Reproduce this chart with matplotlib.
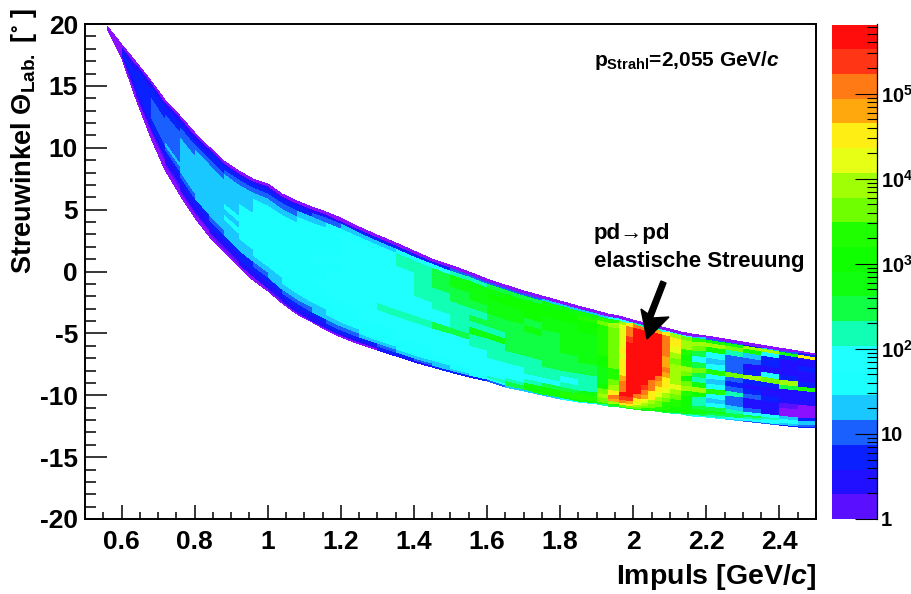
import numpy as np
import matplotlib
matplotlib.use("Agg")
import matplotlib.pyplot as plt
from matplotlib.colors import ListedColormap, LogNorm
from matplotlib.patches import Polygon
from matplotlib.ticker import FuncFormatter, MultipleLocator, LogLocator, NullFormatter

plt.rcParams['font.family'] = ['Liberation Sans', 'DejaVu Sans']
plt.rcParams['font.weight'] = 'bold'
plt.rcParams['axes.unicode_minus'] = False
plt.rcParams['mathtext.fontset'] = 'custom'
plt.rcParams['mathtext.rm'] = 'Liberation Sans:bold'
plt.rcParams['mathtext.bf'] = 'Liberation Sans:bold'
plt.rcParams['mathtext.it'] = 'Liberation Sans:bold:italic'
plt.rcParams['mathtext.default'] = 'regular'

# momentum bin edges and the upper / lower rim of the band (degrees)
impuls = [0.56, 0.6, 0.64, 0.68, 0.72, 0.76, 0.8, 0.84, 0.88, 0.92, 0.96, 1.0, 1.04, 1.08, 1.12, 1.16,
          1.2, 1.25, 1.3, 1.35, 1.4, 1.45, 1.5, 1.55, 1.6, 1.65, 1.7, 1.75, 1.8, 1.85, 1.9, 1.93,
          1.96, 1.98, 2.0, 2.02, 2.04, 2.06, 2.08, 2.1, 2.13, 2.16, 2.2, 2.25, 2.3, 2.35, 2.4, 2.45, 2.5]
rand_oben = [19.8, 18.3, 16.9, 15.4, 13.85, 12.6, 11.2, 10.1, 8.9, 8.1, 7.5, 7.05, 6.3, 5.7, 5.2, 4.8,
             4.3, 3.6, 2.95, 2.3, 1.65, 1.05, 0.5, -0.05, -0.6, -1.1, -1.6, -2.0, -2.4, -2.8, -3.2, -3.45,
             -3.6, -3.75, -3.9, -4.1, -4.25, -4.3, -4.5, -4.65, -4.9, -5.05, -5.2, -5.45, -5.7, -5.95, -6.2, -6.4, -6.65]
rand_unten = [19.7, 17.2, 13.9, 10.8, 8.2, 6.2, 4.3, 2.9, 1.6, 0.35, -0.65, -1.6, -2.55, -3.4, -4.1, -4.7,
              -5.3, -5.85, -6.35, -6.85, -7.3, -7.7, -8.1, -8.5, -8.85, -9.3, -9.65, -10.0, -10.3, -10.55, -10.7, -10.85,
              -10.95, -11.05, -11.1, -11.2, -11.25, -11.3, -11.35, -11.45, -11.55, -11.65, -11.75, -11.9, -12.1, -12.25, -12.4, -12.55, -12.65]
# share of the band width, bottom to top
anteil = [0, .015, .035, .06, .09, .13, .18, .24, .3, .36, .42, .48, .54, .6, .67, .74, .81, .87, .92, .96, .98, 1]

# 10*log10(counts), one line per momentum bin, bottom to top of the band
# -1 marks the single-entry bins at the rim (violet, below the scale)
zehn_log = [
    [-1, -1, -1, -1, -1, -1, -1, -1, -1, -1, -1, -1, -1, -1, -1, -1, -1, -1, -1, -1, -1],
    [-1, -1, -1, -1, -1, -1, 2, 3, 4, 5, 6, 7, 7, 7, 6, 5, 4, 3, 2, -1, -1],
    [-1, -1, -1, -1, -1, 2, 3, 4, 6, 7, 7, 8, 8, 8, 7, 7, 6, 5, 4, 3, -1],
    [-1, -1, -1, -1, -1, 2, 4, 6, 8, 10, 10, 10, 10, 9, 9, 8, 7, 6, 4, 3, -1],
    [-1, -1, -1, -1, 2, 3, 5, 8, 11, 12, 11, 11, 11, 11, 10, 9, 8, 7, 5, 3, -1],
    [-1, -1, -1, 2, 3, 4, 6, 10, 12, 13, 12, 13, 13, 12, 12, 10, 9, 7, 5, 3, -1],
    [-1, -1, -1, 2, 3, 5, 8, 12, 13, 13, 13, 13, 13, 13, 12, 12, 10, 7, 5, 3, -1],
    [-1, -1, 2, 3, 4, 6, 10, 13, 14, 13, 14, 14, 13, 14, 13, 13, 11, 8, 6, 3, -1],
    [-1, -1, 2, 3, 5, 7, 12, 14, 14, 15, 14, 15, 14, 14, 14, 13, 12, 9, 6, 4, -1],
    [-1, -1, 3, 4, 6, 8, 13, 14, 15, 16, 15, 15, 16, 15, 14, 14, 13, 10, 6, 4, -1],
    [-1, -1, 3, 5, 7, 10, 14, 15, 16, 15, 16, 16, 15, 16, 15, 15, 13, 10, 7, 4, -1],
    [-1, 2, 4, 5, 8, 12, 14, 16, 16, 17, 16, 16, 17, 16, 16, 15, 14, 11, 7, 4, -1],
    [-1, 3, 5, 6, 10, 13, 15, 16, 17, 17, 17, 16, 17, 17, 16, 16, 14, 11, 8, 4, -1],
    [-1, 3, 5, 7, 11, 14, 15, 17, 17, 17, 17, 17, 17, 16, 17, 16, 15, 13, 8, 4, -1],
    [-1, 4, 5, 8, 12, 14, 16, 17, 17, 18, 17, 17, 18, 17, 17, 17, 16, 14, 9, 5, -1],
    [-1, 5, 6, 9, 13, 15, 16, 17, 18, 18, 18, 18, 17, 18, 17, 17, 17, 15, 10, 5, -1],
    [-1, 5, 7, 10, 14, 15, 17, 17, 18, 18, 18, 18, 18, 18, 18, 18, 18, 16, 12, 5, -1],
    [-1, 5, 8, 12, 15, 16, 17, 18, 18, 19, 18, 19, 18, 18, 19, 18, 19, 17, 13, 6, -1],
    [3, 6, 10, 14, 15, 17, 17, 18, 18, 21, 19, 19, 19, 19, 19, 19, 20, 19, 14, 6, -1],
    [4, 7, 12, 15, 16, 17, 18, 18, 19, 22, 19, 19, 19, 20, 20, 20, 22, 21, 16, 7, -1],
    [5, 10, 13, 16, 17, 17, 18, 19, 19, 23, 19, 20, 20, 21, 21, 21, 23, 23, 17, 8, -1],
    [6, 12, 14, 16, 17, 18, 18, 19, 20, 24, 20, 20, 21, 22, 22, 24, 25, 25, 19, 8, -1],
    [7, 14, 15, 17, 18, 18, 19, 20, 20, 26, 21, 21, 23, 22, 24, 25, 27, 27, 21, 9, -1],
    [8, 16, 17, 18, 18, 19, 19, 20, 21, 22, 27, 22, 24, 23, 25, 27, 29, 28, 22, 10, -1],
    [10, 20, 21, 20, 19, 19, 20, 21, 21, 23, 27, 23, 24, 26, 27, 28, 30, 29, 24, 10, -1],
    [12, 26, 25, 22, 20, 20, 20, 21, 22, 24, 25, 24, 25, 26, 28, 29, 31, 30, 25, 10, -1],
    [13, 28, 30, 28, 22, 20, 21, 21, 23, 25, 25, 25, 26, 27, 26, 30, 31, 30, 26, 11, -1],
    [14, 29, 31, 30, 24, 20, 21, 22, 24, 25, 26, 26, 26, 25, 28, 29, 30, 30, 27, 12, -1],
    [16, 30, 32, 32, 26, 21, 20, 22, 24, 26, 26, 27, 27, 28, 27, 29, 30, 31, 27, 13, -1],
    [18, 31, 33, 33, 28, 22, 21, 23, 25, 26, 27, 28, 28, 29, 29, 30, 31, 32, 28, 13, -1],
    [22, 33, 35, 36, 40, 36, 30, 28, 28, 29, 30, 31, 32, 33, 32, 33, 34, 35, 32, 14, -1],
    [24, 34, 40, 48, 50, 46, 40, 36, 34, 34, 35, 36, 35, 36, 35, 36, 36, 38, 34, 18, -1],
    [26, 36, 44, 50, 55, 56, 52, 50, 47, 45, 44, 44, 42, 44, 42, 42, 42, 42, 38, 18, -1],
    [28, 36, 44, 48, 54, 57, 57, 57, 57, 57, 57, 57, 57, 56, 56, 54, 52, 50, 44, 20, -1],
    [28, 36, 40, 42, 46, 52, 56, 57, 57, 57, 57, 57, 57, 57, 57, 57, 57, 57, 50, 22, -1],
    [28, 34, 36, 38, 42, 47, 50, 54, 57, 57, 57, 57, 57, 57, 57, 57, 57, 57, 50, 22, -1],
    [28, 34, 36, 36, 38, 44, 46, 50, 52, 57, 57, 57, 57, 57, 57, 57, 57, 57, 50, 22, -1],
    [26, 32, 34, 36, 36, 38, 42, 46, 48, 52, 56, 57, 57, 57, 57, 57, 57, 57, 48, 22, -1],
    [25, 30, 32, 33, 34, 36, 38, 42, 44, 45, 48, 50, 48, 48, 50, 52, 52, 50, 44, 20, -1],
    [22, 28, 30, 31, 32, 34, 36, 40, 42, 38, 38, 38, 40, 36, 38, 42, 44, 44, 38, 16, -1],
    [22, 28, 30, 30, 30, 30, 30, 34, 40, 36, 30, 36, 38, 34, 30, 34, 38, 40, 36, 20, -1],
    [20, 26, 28, 28, 26, 22, 22, 30, 38, 28, 22, 24, 36, 24, 20, 26, 36, 40, 34, 12, -1],
    [16, 22, 26, 28, 24, 16, 14, 20, 34, 16, 12, 18, 34, 16, 14, 18, 30, 38, 30, 10, -1],
    [14, 20, 24, 26, 22, 13, 10, 10, 22, 10, 6, 10, 36, 10, 10, 10, 22, 36, 28, 10, -1],
    [10, 18, 22, 24, 20, 9, 5, 5, 10, 6, 5, 7, 38, 8, 5, 10, 14, 30, 38, 8, -1],
    [10, 16, 19, 22, 16, 5, 3, 3, 6, 5, 4, 8, 36, 20, 4, 6, 6, 16, 40, 12, -1],
    [7, 13, 16, 18, 12, -1, -1, 2, 4, 5, 3, 26, 38, 6, 3, 5, 4, 6, 28, 10, -1],
    [6, 11, 14, 14, 8, -1, -1, -1, 3, 4, 3, 32, 6, 4, 3, 6, 3, 4, 44, 8, -1],
]

# palette bottom to top of the colour bar
farben = ['#5a10ff', '#2010ff', '#0a20ff', '#1a60ff', '#18c8ff', '#1cffff', '#20ffff', '#10ffb5',
          '#10ff45', '#10ff10', '#10ff00', '#20ff00', '#70ff00', '#a0ff05', '#e6ff14', '#ffee14',
          '#ffa80d', '#ff7a15', '#ff3515', '#ff0d0d']
farbe_rand = '#8a10ff'
z_max = 6.5e5

x = np.array(impuls)
oben = np.array(rand_oben)
unten = np.array(rand_unten)
s = np.array(anteil)
counts = 10 ** (np.array(zehn_log, dtype=float).T / 10)

X = np.tile(x, (len(s), 1))
Y = np.outer(s, oben - unten) + unten

fig = plt.figure(figsize=(9.12, 5.94), dpi=100)
ax = fig.add_axes([85 / 912, 1 - 519 / 594, (816 - 85) / 912, (519 - 24) / 594])
cmap = ListedColormap(farben)
cmap.set_under(farbe_rand)
norm = LogNorm(1, z_max)
mesh = ax.pcolormesh(X, Y, counts, cmap=cmap, norm=norm, shading='flat', antialiased=False, linewidth=0)

ax.set_xlim(0.5, 2.5)
ax.set_ylim(-20, 20)
ax.xaxis.set_major_locator(MultipleLocator(0.2))
ax.xaxis.set_minor_locator(MultipleLocator(0.05))
ax.yaxis.set_major_locator(MultipleLocator(5))
ax.yaxis.set_minor_locator(MultipleLocator(1))
ax.xaxis.set_major_formatter(FuncFormatter(lambda v, p: '%g' % round(v, 2)))
ax.tick_params(axis='x', which='major', direction='in', length=10, width=1.1, pad=8, labelsize=19)
ax.tick_params(axis='x', which='minor', direction='in', length=5, width=1.1)
ax.tick_params(axis='y', which='major', direction='in', length=15.8, width=1.1, pad=5, labelsize=19)
ax.tick_params(axis='y', which='minor', direction='in', length=7.9, width=1.1)
for sp in ax.spines.values():
    sp.set_linewidth(1.4)

fig.text(816 / 912, 1 - 577 / 594, r'Impuls [GeV/$\mathit{c}$]', ha='right', va='center', fontsize=20.5)
fig.text(24 / 912, 1 - 8 / 594, r'Streuwinkel $\Theta_{Lab.}$ [$^{\circ}$ ]', rotation=90,
         ha='center', va='top', fontsize=19.5)

fig.text(594 / 912, 1 - 61 / 594, r'p$_{Strahl}$=2,055 GeV/$\mathit{c}$', ha='left', va='center', fontsize=15)
fig.text(594 / 912, 1 - 233 / 594, 'pd→pd', ha='left', va='center', fontsize=16)
fig.text(594 / 912, 1 - 261 / 594, 'elastische Streuung', ha='left', va='center', fontsize=16)

pfeil_px = [(661, 281), (666, 283), (652.5, 318), (669, 317), (647, 339), (641, 309), (648, 314)]
fig.add_artist(Polygon([(a / 912, 1 - b / 594) for a, b in pfeil_px], closed=True, color='black',
                       transform=fig.transFigure, zorder=10))

cax = fig.add_axes([832 / 912, 1 - 519 / 594, 45.5 / 912, (519 - 24.5) / 594])
cb = fig.colorbar(mesh, cax=cax)
cb.outline.set_visible(False)
cax.spines['right'].set_visible(True)
cax.spines['right'].set_linewidth(0.9)
cax.yaxis.set_major_locator(LogLocator(base=10, numticks=8))
cax.yaxis.set_minor_locator(LogLocator(base=10, subs=np.arange(2, 10), numticks=12))
cax.yaxis.set_minor_formatter(NullFormatter())
cax.yaxis.set_major_formatter(FuncFormatter(
    lambda v, p: '1' if v < 5 else ('10' if v < 50 else r'10$^{%d}$' % round(np.log10(v)))))
cax.tick_params(axis='y', which='major', direction='in', length=15.5, width=0.8, pad=2.5, labelsize=14.5, right=True)
cax.tick_params(axis='y', which='minor', direction='in', length=7.5, width=0.8, right=True)

fig.savefig('out.png', dpi=100)
